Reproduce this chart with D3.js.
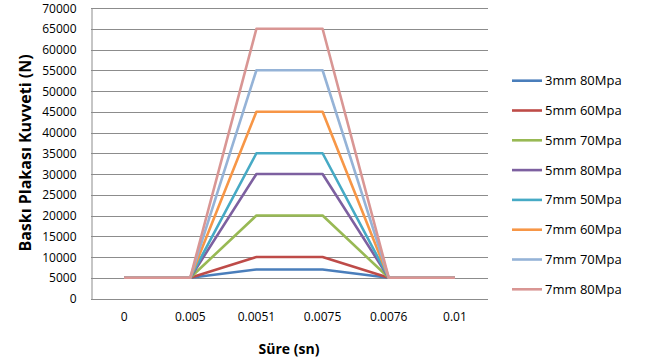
<!DOCTYPE html>
<html>
<head>
<meta charset="utf-8">
<script src="https://cdn.jsdelivr.net/npm/d3@7"></script>
<style>
  html, body { margin: 0; padding: 0; background: #fff; }
  svg { display: block; }
  text { font-family: "Open Sans", "Noto Sans", sans-serif; fill: #000; }
</style>
</head>
<body>
<svg id="chart" width="651" height="363"></svg>
<script>
// Time points (s) shown as categories on the x axis
const timeLabels = ["0", "0.005", "0.0051", "0.0075", "0.0076", "0.01"];

// Pressure plate force (N) per configuration
const seriesNames = ["3mm 80Mpa", "5mm 60Mpa", "5mm 70Mpa", "5mm 80Mpa",
                     "7mm 50Mpa", "7mm 60Mpa", "7mm 70Mpa", "7mm 80Mpa"];
const s3mm80 = [5000, 5000, 7000, 7000, 5000, 5000];
const s5mm60 = [5000, 5000, 10000, 10000, 5000, 5000];
const s5mm70 = [5000, 5000, 20000, 20000, 5000, 5000];
const s5mm80 = [5000, 5000, 30000, 30000, 5000, 5000];
const s7mm50 = [5000, 5000, 35000, 35000, 5000, 5000];
const s7mm60 = [5000, 5000, 45000, 45000, 5000, 5000];
const s7mm70 = [5000, 5000, 55000, 55000, 5000, 5000];
const s7mm80 = [5000, 5000, 65000, 65000, 5000, 5000];
const seriesValues = [s3mm80, s5mm60, s5mm70, s5mm80, s7mm50, s7mm60, s7mm70, s7mm80];

const yTicks = d3.range(0, 70001, 5000);

const colors = ["#4A7EBB", "#BE4B48", "#98B954", "#7D60A0",
                "#46AAC5", "#F79646", "#95B3D7", "#D99694"];

const svg = d3.select("#chart");
const plot = { left: 91, right: 488, top: 8, bottom: 298.5 };

const x = d3.scaleBand().domain(timeLabels).range([plot.left, plot.right]);
const y = d3.scaleLinear().domain([0, 70000]).range([plot.bottom, plot.top]);

// Horizontal gridlines
svg.append("g")
  .selectAll("line")
  .data(yTicks)
  .join("line")
  .attr("x1", plot.left).attr("x2", plot.right)
  .attr("y1", d => Math.round(y(d)) + 0.5).attr("y2", d => Math.round(y(d)) + 0.5)
  .attr("stroke", "#8c8c8c").attr("stroke-width", 1);

// Y axis
const yAxis = svg.append("g")
  .attr("transform", `translate(${plot.left + 0.5},0)`)
  .call(d3.axisLeft(y).tickValues(yTicks).tickSize(0).tickPadding(15).tickFormat(d3.format("d")));
yAxis.select(".domain").attr("stroke", "#8c8c8c");
yAxis.selectAll("text").style("font-size", "12px").attr("dy", "0.35em");

// X axis (labels only, the 0 gridline acts as the baseline)
const xAxis = svg.append("g")
  .attr("transform", `translate(0,${plot.bottom})`)
  .call(d3.axisBottom(x).tickSize(0).tickPadding(14));
xAxis.select(".domain").remove();
xAxis.selectAll("text").style("font-size", "12px");

// Series lines
const line = d3.line()
  .x((d, i) => x(timeLabels[i]) + x.bandwidth() / 2)
  .y(d => y(d));

svg.append("g")
  .selectAll("path")
  .data(seriesValues)
  .join("path")
  .attr("d", line)
  .attr("fill", "none")
  .attr("stroke", (d, i) => colors[i])
  .attr("stroke-width", 2.6)
  .attr("stroke-linejoin", "round");

// Axis titles
svg.append("text")
  .attr("x", 289)
  .attr("y", 354)
  .attr("text-anchor", "middle")
  .style("font-size", "14px").style("font-weight", "bold")
  .text("Süre (sn)");

svg.append("text")
  .attr("transform", `translate(31,153) rotate(-90)`)
  .attr("text-anchor", "middle")
  .style("font-size", "16px").style("font-weight", "bold")
  .text("Baskı Plakası Kuvveti (N)");

// Legend
const legend = svg.append("g")
  .selectAll("g")
  .data(seriesNames)
  .join("g")
  .attr("transform", (d, i) => `translate(512,${80.7 + i * 29.8})`);
legend.append("line")
  .attr("x1", 0).attr("x2", 30)
  .attr("stroke", (d, i) => colors[i]).attr("stroke-width", 2.6);
legend.append("text")
  .attr("x", 33).attr("dy", "0.35em")
  .style("font-size", "13px")
  .text(d => d);
</script>
</body>
</html>
